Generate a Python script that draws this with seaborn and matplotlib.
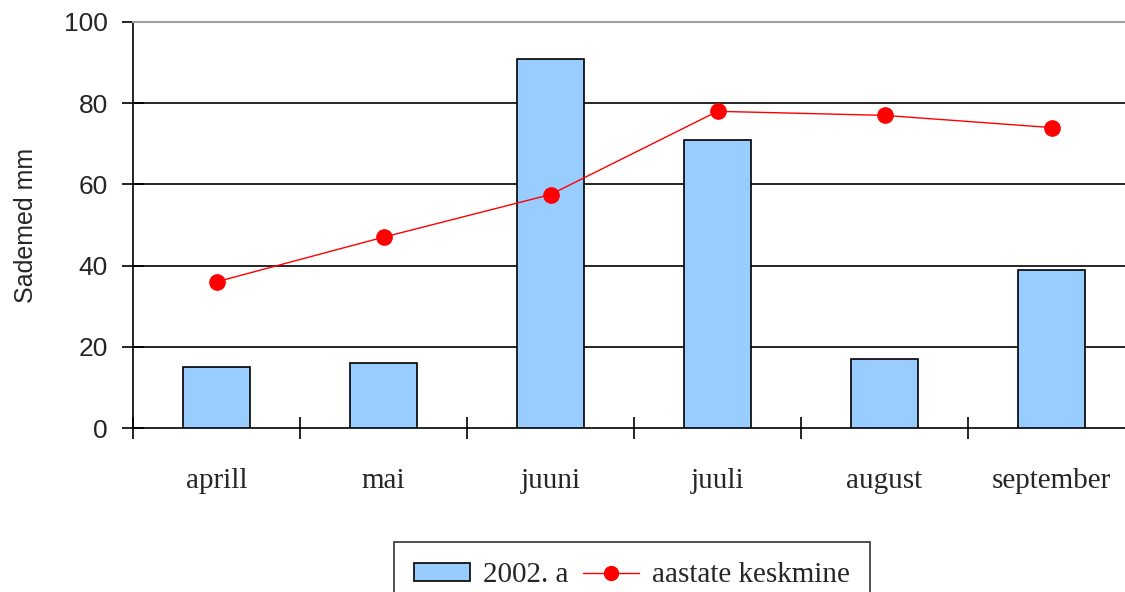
import matplotlib
matplotlib.use("Agg")
import matplotlib.pyplot as plt
import seaborn as sns
import pandas as pd
import numpy as np
from matplotlib.lines import Line2D
from matplotlib.patches import Patch

months = ["aprill", "mai", "juuni", "juuli", "august", "september"]
rain_2002 = [15, 16, 91, 71, 17, 39]
rain_avg = [36, 47, 57.5, 78, 77, 74]
y_ticks = [0, 20, 40, 60, 80, 100]

sns.set_style("white")
plt.rcParams['font.family'] = ['Liberation Serif', 'DejaVu Serif']

df = pd.DataFrame({"kuu": months, "sademed": rain_2002, "keskmine": rain_avg})

fig = plt.figure(figsize=(11.25, 5.92), dpi=100)
ax = fig.add_axes([133 / 1125, 164 / 592, 1002 / 1125, 406 / 592])

sns.barplot(data=df, x="kuu", y="sademed", color="#99CCFF", saturation=1,
            edgecolor="black", linewidth=1.2, width=0.4, ax=ax, zorder=3)
ax.plot(np.arange(len(months)), df["keskmine"], color="red", linewidth=1,
        marker="o", markersize=11, zorder=4)

ax.set_xlim(-0.5, len(months) - 0.5)
ax.set_ylim(0, 100)
ax.set_yticks(y_ticks)
for y in y_ticks[1:-1]:
    ax.axhline(y, color="black", linewidth=1.2, zorder=1)

ax.spines["right"].set_visible(False)
ax.spines["top"].set_color("#a0a0a0")
ax.spines["top"].set_linewidth(1.5)
for s in ["left", "bottom"]:
    ax.spines[s].set_linewidth(1.2)
    ax.spines[s].set_color("black")

# ticks at category boundaries, labels at centers
ax.set_xticks(np.arange(-0.5, len(months), 1.0), minor=True)
ax.tick_params(axis="x", which="minor", bottom=True, direction="inout",
               length=16, width=1.2, color="black")
ax.tick_params(axis="x", which="major", length=0, pad=28.5, labelsize=21)
ax.tick_params(axis="y", left=True, direction="inout", length=16, width=1.2,
               color="black", pad=10)
for lab in ax.get_yticklabels():
    lab.set_family("Liberation Sans")
    lab.set_fontsize(19)

ax.set_xlabel("")
ax.set_ylabel("Sademed mm", fontsize=18, family="Liberation Sans")
ax.yaxis.set_label_coords(-0.095, 0.5)

handles = [Patch(facecolor="#99CCFF", edgecolor="black", linewidth=1.2),
           Line2D([0], [0], color="red", linewidth=1, marker="o", markersize=10)]
leg = fig.legend(handles, ["2002. a", "aastate keskmine"], loc="upper center",
                 bbox_to_anchor=(632 / 1125, 50 / 592), ncol=2, fontsize=21,
                 frameon=True, fancybox=False, edgecolor="black", handlelength=1.9,
                 handleheight=0.6, columnspacing=0.5, handletextpad=0.45,
                 borderpad=0.7, borderaxespad=0)
leg.get_frame().set_linewidth(1.2)

fig.savefig("out.png", dpi=100)
